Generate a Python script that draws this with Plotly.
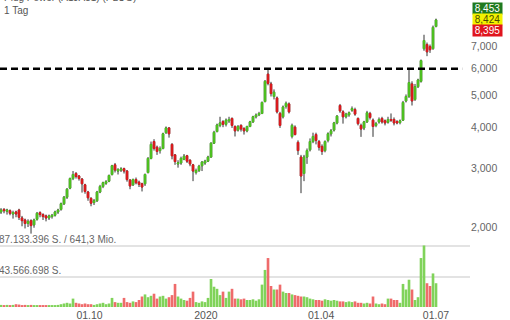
import math
import plotly.graph_objects as go

title_line = "Plug Power (A1JA81) (PLUG)"
interval_label = "1 Tag"

open_ = [
    2.22, 2.26, 2.23, 2.24, 2.19, 2.22, 2.25, 2.13, 2.10, 2.05,
    2.09, 2.03, 2.11, 2.21, 2.18, 2.16, 2.13, 2.15, 2.17, 2.22,
    2.26, 2.35, 2.46, 2.62, 2.80, 2.90, 2.85, 2.79, 2.68, 2.55,
    2.44, 2.37, 2.40, 2.55, 2.65, 2.71, 2.75, 2.88, 3.08, 2.95,
    2.97, 3.00, 2.95, 2.77, 2.68, 2.78, 2.73, 2.70, 2.70, 2.92,
    3.22, 3.62, 3.48, 3.40, 3.45, 3.85, 3.98, 3.55, 3.30, 3.10,
    3.12, 3.20, 3.28, 3.18, 3.08, 2.92, 2.96, 3.06, 3.12, 3.16,
    3.25, 3.58, 3.88, 4.05, 4.16, 4.08, 4.18, 4.25, 4.02, 3.92,
    4.05, 3.96, 3.90, 4.02, 4.15, 4.30, 4.36, 4.40, 4.78, 5.78,
    5.40, 4.95, 4.90, 4.40, 4.30, 4.62, 4.70, 3.75, 4.00, 3.60,
    3.25, 2.90, 3.25, 3.42, 3.62, 3.80, 3.62, 3.50, 3.40, 3.65,
    3.82, 3.92, 4.12, 4.65, 4.45, 4.30, 4.36, 4.50, 4.52, 4.25,
    4.05, 3.98, 4.15, 4.40, 4.20, 4.05, 4.15, 4.25, 4.18, 4.14,
    4.22, 4.22, 4.16, 4.13, 4.20, 4.80, 4.95, 5.40, 4.85, 5.30,
    5.50, 6.90, 7.10, 7.00, 6.90, 8.05]
high = [
    2.28, 2.28, 2.27, 2.26, 2.24, 2.24, 2.27, 2.16, 2.12, 2.11,
    2.11, 2.12, 2.22, 2.23, 2.20, 2.18, 2.18, 2.19, 2.24, 2.27,
    2.37, 2.48, 2.62, 2.82, 2.95, 2.93, 2.87, 2.81, 2.70, 2.57,
    2.46, 2.43, 2.57, 2.68, 2.74, 2.77, 2.88, 3.08, 3.12, 3.01,
    3.03, 3.02, 2.97, 2.79, 2.80, 2.82, 2.76, 2.72, 2.90, 3.25,
    3.62, 3.68, 3.52, 3.50, 3.85, 4.02, 4.00, 3.58, 3.32, 3.18,
    3.26, 3.32, 3.30, 3.20, 3.10, 3.00, 3.08, 3.16, 3.19, 3.28,
    3.60, 3.90, 4.10, 4.30, 4.20, 4.25, 4.30, 4.28, 4.05, 4.06,
    4.08, 4.00, 4.04, 4.18, 4.33, 4.40, 4.45, 4.78, 5.55, 5.95,
    5.48, 5.20, 4.95, 4.45, 4.65, 4.78, 4.75, 4.10, 4.05, 3.65,
    3.30, 3.30, 3.45, 3.70, 3.85, 3.85, 3.66, 3.55, 3.65, 3.86,
    3.95, 4.15, 4.35, 4.70, 4.50, 4.42, 4.46, 4.62, 4.58, 4.28,
    4.10, 4.18, 4.48, 4.45, 4.25, 4.15, 4.28, 4.30, 4.22, 4.30,
    4.40, 4.28, 4.20, 4.22, 4.80, 5.02, 6.00, 5.50, 5.40, 5.60,
    6.40, 7.60, 7.20, 7.10, 8.10, 8.50]
low = [
    2.19, 2.20, 2.18, 2.17, 2.12, 2.14, 2.10, 2.01, 1.98, 2.00,
    1.91, 1.99, 2.09, 2.14, 2.10, 2.08, 2.10, 2.12, 2.15, 2.19,
    2.24, 2.33, 2.43, 2.60, 2.77, 2.80, 2.76, 2.54, 2.52, 2.40,
    2.31, 2.33, 2.38, 2.53, 2.62, 2.68, 2.73, 2.86, 2.92, 2.88,
    2.93, 2.90, 2.74, 2.60, 2.66, 2.69, 2.64, 2.56, 2.66, 2.90,
    3.20, 3.40, 3.30, 3.33, 3.43, 3.82, 3.72, 3.20, 3.08, 3.02,
    3.08, 3.18, 3.12, 3.05, 2.75, 2.88, 2.93, 2.95, 3.08, 3.14,
    3.24, 3.56, 3.86, 4.00, 4.00, 4.02, 4.12, 3.98, 3.75, 3.88,
    3.88, 3.80, 3.86, 4.00, 4.12, 4.25, 4.32, 4.38, 4.75, 5.35,
    4.95, 4.85, 4.40, 3.98, 4.25, 4.55, 4.40, 3.70, 3.78, 3.30,
    2.53, 2.75, 3.10, 3.38, 3.58, 3.55, 3.40, 3.30, 3.36, 3.60,
    3.75, 3.88, 4.08, 4.42, 4.10, 4.25, 4.30, 4.45, 4.33, 4.05,
    3.74, 3.92, 4.12, 4.22, 3.74, 4.00, 4.10, 4.10, 4.05, 4.10,
    4.15, 4.05, 4.08, 4.08, 4.18, 4.75, 4.90, 4.65, 4.80, 5.25,
    5.45, 6.80, 6.55, 6.70, 6.85, 8.00]
close = [
    2.25, 2.24, 2.25, 2.20, 2.21, 2.19, 2.14, 2.09, 2.05, 2.08,
    2.02, 2.10, 2.20, 2.18, 2.15, 2.13, 2.16, 2.17, 2.22, 2.25,
    2.35, 2.46, 2.60, 2.80, 2.88, 2.84, 2.80, 2.70, 2.56, 2.45,
    2.36, 2.40, 2.55, 2.65, 2.72, 2.74, 2.86, 3.06, 2.97, 2.98,
    2.99, 2.95, 2.78, 2.66, 2.78, 2.72, 2.69, 2.64, 2.88, 3.22,
    3.55, 3.45, 3.38, 3.45, 3.82, 3.98, 3.82, 3.28, 3.15, 3.12,
    3.22, 3.27, 3.16, 3.10, 2.95, 2.96, 3.05, 3.14, 3.16, 3.25,
    3.58, 3.86, 4.06, 4.12, 4.08, 4.20, 4.22, 4.05, 3.90, 4.02,
    3.95, 3.90, 4.02, 4.15, 4.30, 4.35, 4.40, 4.75, 5.50, 5.42,
    5.05, 5.10, 4.45, 4.05, 4.60, 4.72, 4.45, 4.05, 3.80, 3.40,
    2.85, 3.25, 3.40, 3.62, 3.75, 3.65, 3.48, 3.38, 3.62, 3.82,
    3.90, 4.12, 4.32, 4.48, 4.30, 4.38, 4.42, 4.55, 4.38, 4.10,
    3.95, 4.15, 4.42, 4.28, 4.02, 4.10, 4.22, 4.15, 4.12, 4.22,
    4.20, 4.12, 4.12, 4.18, 4.75, 4.95, 5.45, 4.80, 5.30, 5.55,
    6.35, 7.30, 6.75, 6.85, 8.00, 8.42]
volume_mio = [
    3, 2.5, 3, 2.5, 3, 4, 3.5, 2.5, 3, 2,
    3, 2.5, 2, 2.5, 2, 2, 2.5, 2, 2.5, 3,
    4, 5, 6, 5, 12, 6, 5, 4, 5, 4,
    4, 3, 4, 5, 6, 4, 5, 13, 7, 6,
    6, 13, 7, 6, 8, 7, 10, 15, 18, 14,
    16, 19, 12, 15, 16, 12, 14, 17, 33, 15,
    12, 10, 9, 13, 22, 7, 6, 8, 7, 13,
    40, 29, 26, 17, 22, 13, 22, 26, 12, 12,
    11, 12, 10, 10, 11, 9, 11, 32, 53, 70,
    30, 25, 25, 32, 22, 20, 20, 18, 17, 16,
    15, 15, 14, 12, 11, 10, 10, 9, 11, 10,
    9, 10, 9, 8, 8, 7, 8, 7, 8, 6,
    6, 5, 6, 5, 15, 5, 4, 5, 4, 12,
    12, 10, 10, 6, 33, 25, 39, 25, 10, 14,
    70, 88, 34, 30, 48, 34]

date_ticks = [29.5, 68.3, 106.7, 145.0]
date_labels = ["01.10", "2020", "01.04", "01.07"]
price_ticks = [2, 3, 4, 5, 6, 7]
price_tick_labels = ["2,000", "3,000", "4,000", "5,000", "6,000", "7,000"]
volume_ticks = [43.566698, 87.133396]
volume_labels = ["43.566.698 S.", "87.133.396 S. / 641,3 Mio."]
resistance = 6.0
quotes = [8.453, 8.424, 8.395]

FONT = "Liberation Sans, Arial, sans-serif"
GREEN = "#4fc81f"
RED = "#e3191c"
WICK = "#333333"

n = len(close)
x = list(range(n))
body_hi = [max(o, c) for o, c in zip(open_, close)]
body_lo = [min(o, c) for o, c in zip(open_, close)]
vol_colors = ["#80d35a" if c >= o else "#ef6b6b" for o, c in zip(open_, close)]

fig = go.Figure()

# resistance line
fig.add_trace(go.Scatter(
    x=[-0.34, 153.7], y=[resistance, resistance], mode="lines",
    line=dict(color="#000000", width=2.6, dash="7px,4px"),
    xaxis="x", yaxis="y", hoverinfo="skip", showlegend=False))

# wicks
fig.add_trace(go.Candlestick(
    x=x, open=open_, high=high, low=low, close=close,
    increasing=dict(line=dict(color=WICK, width=1), fillcolor=WICK),
    decreasing=dict(line=dict(color=WICK, width=1), fillcolor=WICK),
    xaxis="x", yaxis="y", hoverinfo="skip", showlegend=False))
# bodies
fig.add_trace(go.Candlestick(
    x=x, open=open_, high=body_hi, low=body_lo, close=close,
    increasing=dict(line=dict(color=GREEN, width=1), fillcolor=GREEN),
    decreasing=dict(line=dict(color=RED, width=1), fillcolor=RED),
    xaxis="x", yaxis="y", hoverinfo="skip", showlegend=False))

fig.add_trace(go.Bar(
    x=x, y=volume_mio, marker=dict(color=vol_colors, line=dict(width=0)),
    xaxis="x", yaxis="y2", hoverinfo="skip", showlegend=False))

annotations = [
    dict(text=title_line, xref="paper", yref="paper", x=0, y=1, xanchor="left",
         yanchor="middle", xshift=3, yshift=2.5, showarrow=False, borderpad=0,
         font=dict(family=FONT, size=10, color="#555555")),
    dict(text=interval_label, xref="paper", yref="paper", x=0, y=1, xanchor="left",
         yanchor="middle", xshift=3, yshift=-10, showarrow=False, borderpad=0,
         font=dict(family=FONT, size=10, color="#555555")),
]
for v, lab in zip(volume_ticks, volume_labels):
    annotations.append(dict(
        text=lab, xref="paper", yref="y2", x=0, y=v, xanchor="left", yanchor="bottom",
        xshift=-3, yshift=-1, showarrow=False,
        font=dict(family=FONT, size=10, color="#666666")))

box_styles = [("#1f7a1f", "#ffffff", 11), ("#f2f200", "#4a4a00", 0), ("#e0141e", "#ffffff", -11)]
for q, (bg, fg, ys) in zip(quotes, box_styles):
    annotations.append(dict(
        text=f"{q:.3f}".replace(".", ","), xref="paper", yref="y", x=1,
        y=math.log10(quotes[1]), xanchor="left", yanchor="middle",
        xshift=2, yshift=ys, showarrow=False, bgcolor=bg, borderpad=0,
        width=29, height=11, font=dict(family=FONT, size=10, color=fg)))

fig.update_layout(
    width=510, height=320,
    margin=dict(l=0, r=40, t=0, b=13),
    paper_bgcolor="white", plot_bgcolor="white",
    showlegend=False,
    bargap=0.12,
    xaxis=dict(range=[-0.34, 156.33], anchor="y2", tickvals=date_ticks, ticktext=date_labels,
               showgrid=False, zeroline=False, showline=False, ticks="",
               tickfont=dict(family=FONT, size=10.5, color="#555555"),
               rangeslider=dict(visible=False), automargin=False),
    yaxis=dict(type="log", domain=[0.228, 1], range=[0.2709, 0.9856], side="right",
               tickvals=price_ticks, ticktext=price_tick_labels, showgrid=False,
               zeroline=False, showline=False, ticks="", anchor="x",
               tickfont=dict(family=FONT, size=10.5, color="#666666"), automargin=False),
    yaxis2=dict(domain=[0, 0.218], range=[0, 95.7], tickvals=volume_ticks,
                showticklabels=False, showgrid=True, gridcolor="#e3e3e3", gridwidth=1.5,
                zeroline=False, showline=False, ticks="", anchor="x", automargin=False),
    annotations=annotations,
)

fig.write_html("out.html")
